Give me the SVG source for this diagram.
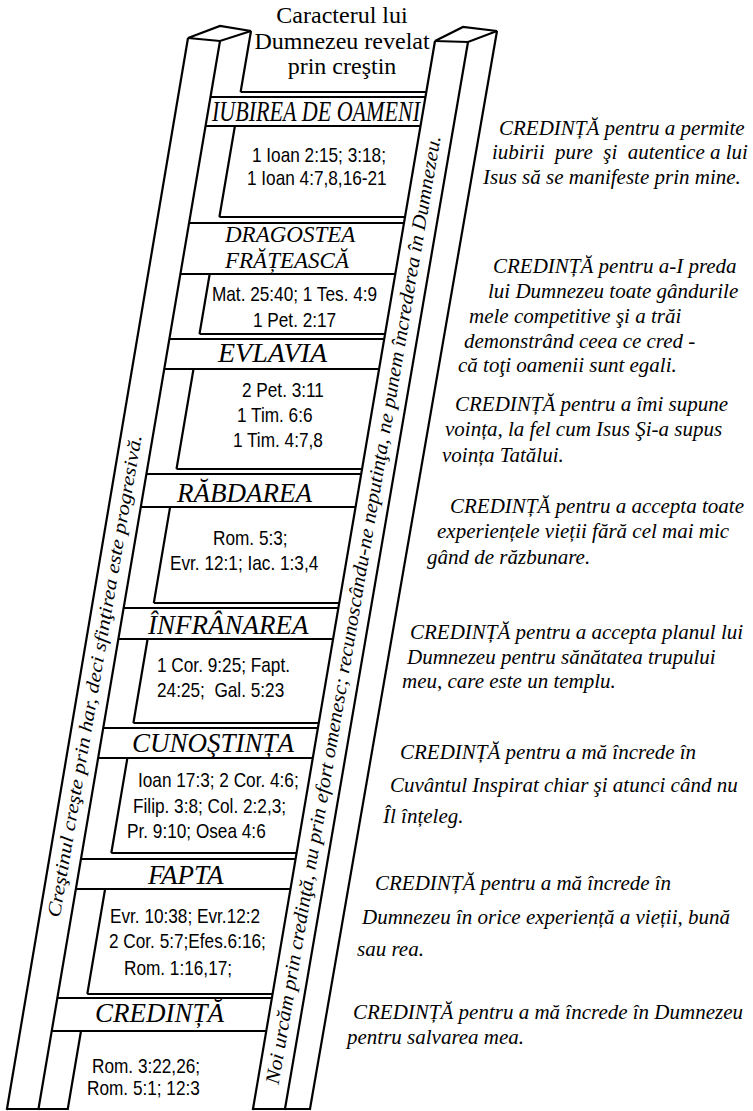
<svg xmlns="http://www.w3.org/2000/svg" width="753" height="1111" viewBox="0 0 753 1111">
<style>
.ln{stroke:#000;stroke-width:2.2;fill:none;stroke-linecap:butt}
.cap{stroke:#000;stroke-width:2.2;fill:#fff;stroke-linejoin:miter}
.ttl{font-family:"Liberation Serif","Times New Roman",serif;font-size:24px;fill:#000;text-anchor:middle}
.rl{font-family:"Liberation Serif","Times New Roman",serif;font-style:italic;fill:#000}
.ref{font-family:"Liberation Sans",Arial,sans-serif;font-size:21px;fill:#000}
.side{font-family:"Liberation Serif","Times New Roman",serif;font-style:italic;font-size:21px;fill:#000}
.rail{font-family:"Liberation Serif","Times New Roman",serif;font-style:italic;fill:#000}
</style>
<rect width="753" height="1111" fill="#fff"/>
<g id="title">
<text class="ttl" x="342" y="23">Caracterul lui</text>
<text class="ttl" x="342" y="49">Dumnezeu revelat</text>
<text class="ttl" x="342" y="74">prin creştin</text>
</g>
<g id="left-rail">
<polygon class="cap" points="188,38 220,26 251,31 220,41"/>
<line class="ln" x1="188" y1="38" x2="6.8" y2="1110"/>
<line class="ln" x1="220" y1="41" x2="38.3" y2="1110"/>
<path class="ln" d="M251,31 L240.6,92 M234.9,126 L219.4,217 M209.7,274 L199.5,334 M193.5,369 L176.5,469 M170.1,507 L153.8,603 M147.6,639 L133.4,723 M127.4,758 L111.3,853 M105.1,889 L87.3,994 M81,1031 L67.6,1110"/>
<path class="ln" d="M6.8,1109 H67.6"/>
<text class="rail" font-size="19" transform="translate(59.7,918) rotate(-80.35)" textLength="489" lengthAdjust="spacingAndGlyphs">Creştinul creşte prin har, deci sfinţirea este progresivă.</text>
</g>
<g id="right-rail">
<polygon class="cap" points="435,41 463,27 497,31 468,42"/>
<line class="ln" x1="435" y1="41" x2="252.8" y2="1110"/>
<line class="ln" x1="468" y1="42" x2="284.8" y2="1110"/>
<line class="ln" x1="497" y1="31" x2="309.8" y2="1110"/>
<path class="ln" d="M252.8,1109 H309.8"/>
<text class="rail" font-size="20" transform="translate(278.6,1085) rotate(-80.3)" textLength="962" lengthAdjust="spacingAndGlyphs">Noi urcăm prin credinţă, nu prin efort omenesc; recunoscându-ne neputinţa, ne punem încrederea în Dumnezeu.</text>
</g>
<g id="rungs">
<g id="rung-iubirea">
<path class="ln" d="M240.6,92 H426.3 M210.5,97 H425.5 M205.6,126 H420.5"/>
<text class="rl" x="212" y="121" font-size="29" textLength="208" lengthAdjust="spacingAndGlyphs">IUBIREA DE OAMENI</text>
</g>
<g id="rung-dragostea">
<path class="ln" d="M219.4,217 H405 M189.1,223 H404 M180.4,274 H395.3"/>
<text class="rl" x="225" y="242" font-size="23">DRAGOSTEA</text>
<text class="rl" x="225" y="268" font-size="23">FRĂȚEASCĂ</text>
</g>
<g id="rung-evlavia">
<path class="ln" d="M199.5,334 H385.1 M169.3,339 H384.2 M164.2,369 H379.1"/>
<text class="rl" x="218" y="362" font-size="28">EVLAVIA</text>
</g>
<g id="rung-rabdarea">
<path class="ln" d="M176.5,469 H362.1 M146.4,474 H361.2 M140.8,507 H355.6"/>
<text class="rl" x="177" y="502" font-size="27">RĂBDAREA</text>
</g>
<g id="rung-infranarea">
<path class="ln" d="M153.8,603 H339.2 M123.6,608 H338.4 M118.3,639 H333.1"/>
<text class="rl" x="148" y="634" font-size="27">ÎNFRÂNAREA</text>
</g>
<g id="rung-cunostinta">
<path class="ln" d="M133.4,723 H318.8 M103.2,728 H317.9 M98.1,758 H312.8"/>
<text class="rl" x="132" y="752" font-size="27">CUNOŞTINȚA</text>
</g>
<g id="rung-fapta">
<path class="ln" d="M111.3,853 H296.6 M80.9,859 H295.6 M75.8,889 H290.5"/>
<text class="rl" x="148" y="884" font-size="27">FAPTA</text>
</g>
<g id="rung-credinta">
<path class="ln" d="M87.3,994 H272.6 M57.3,998 H271.9 M51.7,1031 H266.3"/>
<text class="rl" x="95" y="1022" font-size="27">CREDINȚĂ</text>
</g>
</g>
<g id="references" transform="scale(0.82 1)">
<text class="ref" x="307.3" y="162">1 Ioan 2:15; 3:18;</text>
<text class="ref" x="301.2" y="185">1 Ioan 4:7,8,16-21</text>
<text class="ref" x="258.5" y="301">Mat. 25:40; 1 Tes. 4:9</text>
<text class="ref" x="308.5" y="327">1 Pet. 2:17</text>
<text class="ref" x="295.1" y="397">2 Pet. 3:11</text>
<text class="ref" x="289" y="422">1 Tim. 6:6</text>
<text class="ref" x="284.1" y="447">1 Tim. 4:7,8</text>
<text class="ref" x="259.8" y="545">Rom. 5:3;</text>
<text class="ref" x="207.3" y="570">Evr. 12:1; Iac. 1:3,4</text>
<text class="ref" x="191.5" y="672">1 Cor. 9:25; Fapt.</text>
<text class="ref" x="191.5" y="697" xml:space="preserve">24:25;  Gal. 5:23</text>
<text class="ref" x="168.3" y="787">Ioan 17:3; 2 Cor. 4:6;</text>
<text class="ref" x="162.2" y="813">Filip. 3:8; Col. 2:2,3;</text>
<text class="ref" x="154.9" y="838">Pr. 9:10; Osea 4:6</text>
<text class="ref" x="134.1" y="923">Evr. 10:38; Evr.12:2</text>
<text class="ref" x="132.9" y="948">2 Cor. 5:7;Efes.6:16;</text>
<text class="ref" x="151.2" y="975">Rom. 1:16,17;</text>
<text class="ref" x="112.2" y="1073">Rom. 3:22,26;</text>
<text class="ref" x="106.1" y="1095">Rom. 5:1; 12:3</text>
</g>
<g id="faith-notes">
<text class="side" x="499" y="135">CREDINȚĂ pentru a permite</text>
<text class="side" x="492" y="159" xml:space="preserve">iubirii  pure  şi  autentice a lui</text>
<text class="side" x="483" y="184">Isus să se manifeste prin mine.</text>
<text class="side" x="493" y="273">CREDINȚĂ pentru a-I preda</text>
<text class="side" x="488" y="298">lui Dumnezeu toate gândurile</text>
<text class="side" x="469" y="323">mele competitive şi a trăi</text>
<text class="side" x="464" y="348">demonstrând ceea ce cred -</text>
<text class="side" x="458" y="372">că toţi oamenii sunt egali.</text>
<text class="side" x="455" y="411">CREDINȚĂ pentru a îmi supune</text>
<text class="side" x="445" y="436">voința, la fel cum Isus Şi-a supus</text>
<text class="side" x="442" y="462">voința Tatălui.</text>
<text class="side" x="450" y="513">CREDINȚĂ pentru a accepta toate</text>
<text class="side" x="437" y="538">experiențele vieții fără cel mai mic</text>
<text class="side" x="427" y="564">gând de răzbunare.</text>
<text class="side" x="410" y="639">CREDINȚĂ pentru a accepta planul lui</text>
<text class="side" x="407" y="664">Dumnezeu pentru sănătatea trupului</text>
<text class="side" x="402" y="688">meu, care este un templu.</text>
<text class="side" x="400" y="759">CREDINȚĂ pentru a mă încrede în</text>
<text class="side" x="390" y="792">Cuvântul Inspirat chiar şi atunci când nu</text>
<text class="side" x="383" y="823">Îl înțeleg.</text>
<text class="side" x="375" y="890">CREDINȚĂ pentru a mă încrede în</text>
<text class="side" x="362" y="924">Dumnezeu în orice experiență a vieții, bună</text>
<text class="side" x="357" y="956">sau rea.</text>
<text class="side" x="353" y="1019">CREDINȚĂ pentru a mă încrede în Dumnezeu</text>
<text class="side" x="347" y="1044">pentru salvarea mea.</text>
</g>
</svg>
